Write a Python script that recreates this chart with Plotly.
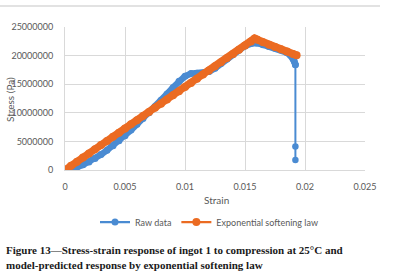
import plotly.graph_objects as go

# Raw data (blue)
raw_strain = [0, 0.0005, 0.001, 0.0015, 0.002, 0.0025, 0.003, 0.0035, 0.004, 0.0045,
              0.005, 0.0055, 0.006, 0.0065, 0.007, 0.0075, 0.008, 0.0085, 0.009, 0.0095,
              0.01, 0.0105, 0.011, 0.0115, 0.012, 0.0125, 0.013, 0.0135, 0.014, 0.0145,
              0.015, 0.0155, 0.016, 0.0165, 0.017, 0.0175, 0.018, 0.0185, 0.0188, 0.019,
              0.0191, 0.0192, 0.0192, 0.0192]
raw_stress = [0, 0.18e6, 0.5e6, 0.9e6, 1.4e6, 2.0e6, 2.7e6, 3.45e6, 4.25e6, 5.1e6,
              6.0e6, 7.0e6, 8.0e6, 9.0e6, 10.0e6, 11.1e6, 12.2e6, 13.3e6, 14.4e6, 15.5e6,
              16.4e6, 16.85e6, 16.9e6, 16.9e6, 17.2e6, 17.8e6, 18.6e6, 19.4e6, 20.2e6, 21.0e6,
              21.7e6, 22.1e6, 22.2e6, 21.9e6, 21.6e6, 21.3e6, 21.0e6, 20.5e6, 20.0e6, 19.5e6,
              19.0e6, 18.4e6, 4.1e6, 1.75e6]

# Exponential softening law (orange)
model_strain = [0, 0.0005, 0.001, 0.0015, 0.002, 0.0025, 0.003, 0.0035, 0.004, 0.0045,
                0.005, 0.0055, 0.006, 0.0065, 0.007, 0.0075, 0.008, 0.0085, 0.009, 0.0095,
                0.01, 0.0105, 0.011, 0.0115, 0.012, 0.0125, 0.013, 0.0135, 0.014, 0.0145,
                0.015, 0.0155, 0.0158, 0.016, 0.0165, 0.017, 0.0175, 0.018, 0.0185, 0.019,
                0.0193]
model_stress = [0, 0.73e6, 1.45e6, 2.18e6, 2.9e6, 3.63e6, 4.35e6, 5.08e6, 5.8e6, 6.53e6,
                7.25e6, 7.98e6, 8.7e6, 9.43e6, 10.15e6, 10.88e6, 11.6e6, 12.33e6, 13.05e6, 13.78e6,
                14.5e6, 15.23e6, 15.95e6, 16.68e6, 17.4e6, 18.13e6, 18.85e6, 19.58e6, 20.3e6, 21.03e6,
                21.75e6, 22.48e6, 23.0e6, 22.8e6, 22.35e6, 21.9e6, 21.5e6, 21.1e6, 20.7e6, 20.3e6,
                20.05e6]

x_ticks = [0, 0.005, 0.01, 0.015, 0.02, 0.025]
x_tick_labels = ["0", "0.005", "0.01", "0.015", "0.02", "0.025"]
y_ticks = [0, 5000000, 10000000, 15000000, 20000000, 25000000]
y_tick_labels = ["0", "5000000", "10000000", "15000000", "20000000", "25000000"]

BLUE = "#4A8BD2"
ORANGE = "#EB6B22"
GRID = "#D9D9D9"
TXT = "#595959"
FONT = "Lato"

fig = go.Figure()
# dense-marker band of the raw data
fig.add_trace(go.Scatter(x=raw_strain[:-2], y=raw_stress[:-2], mode="lines+markers", showlegend=False,
                         line=dict(color=BLUE, width=6.5), marker=dict(color=BLUE, size=7),
                         hoverinfo="skip"))
# thin drop segment with markers
fig.add_trace(go.Scatter(x=raw_strain[-3:], y=raw_stress[-3:], mode="lines+markers", showlegend=False,
                         line=dict(color=BLUE, width=2), marker=dict(color=BLUE, size=6.5),
                         hoverinfo="skip"))
# legend entry
fig.add_trace(go.Scatter(x=[None], y=[None], mode="lines+markers", name="Raw data",
                         line=dict(color=BLUE, width=2.2), marker=dict(color=BLUE, size=7)))
fig.add_trace(go.Scatter(x=model_strain, y=model_stress, mode="lines+markers",
                         showlegend=False,
                         line=dict(color=ORANGE, width=7.5), marker=dict(color=ORANGE, size=8),
                         hoverinfo="skip"))
fig.add_trace(go.Scatter(x=[None], y=[None], mode="lines+markers", name="Exponential softening law",
                         line=dict(color=ORANGE, width=2.2), marker=dict(color=ORANGE, size=8)))

fig.update_layout(
    width=395, height=276,
    margin=dict(l=65, r=30, t=27, b=106),
    paper_bgcolor="white", plot_bgcolor="white",
    font=dict(family=FONT, size=9, color=TXT),
    showlegend=True,
    legend=dict(orientation="h", x=0.48, xanchor="center", y=-0.364, yanchor="middle",
                font=dict(family=FONT, size=9, color=TXT), itemwidth=30,
                bgcolor="rgba(0,0,0,0)"),
    xaxis=dict(range=[0, 0.025], tickvals=x_ticks, ticktext=x_tick_labels,
               showgrid=True, gridcolor=GRID, gridwidth=1, zeroline=False,
               showline=True, linecolor=GRID, linewidth=1, mirror=False,
               ticks="", ticklabelstandoff=8, fixedrange=True, automargin=False),
    yaxis=dict(range=[0, 25000000], tickvals=y_ticks, ticktext=y_tick_labels,
               showgrid=True, gridcolor=GRID, gridwidth=1, zeroline=False,
               showline=True, linecolor=GRID, linewidth=1,
               ticks="", ticklabelstandoff=9, fixedrange=True, automargin=False),
)

# Chart frame top border
fig.add_shape(type="line", xref="paper", yref="paper",
              x0=-65/300, x1=315/300, y0=164/143, y1=164/143,
              line=dict(color=GRID, width=1.5))

# Axis titles
fig.add_annotation(text="Strain", xref="paper", yref="paper", x=(216-65)/300, y=(170-200)/143,
                   showarrow=False, xanchor="center", yanchor="middle",
                   font=dict(family=FONT, size=10, color=TXT))
fig.add_annotation(text="Stress (Pa)", xref="paper", yref="paper", x=(10-65)/300, y=(170-100)/143,
                   showarrow=False, xanchor="center", yanchor="middle", textangle=-90,
                   font=dict(family=FONT, size=10, color=TXT))

# Caption
cap1 = "Figure 13\u2014Stress-strain response of ingot 1 to compression at 25\u00b0C and"
cap2 = "model-predicted response by exponential softening law"
for txt, yy in [(cap1, 250), (cap2, 265)]:
    fig.add_annotation(text="<b>" + txt + "</b>", xref="paper", yref="paper",
                       x=(4-65)/300, y=(170-yy)/143, showarrow=False,
                       xanchor="left", yanchor="middle",
                       font=dict(family="Liberation Serif", size=11, color="#1a1a1a"))

fig.write_html("out.html", config={"displayModeBar": False},
               post_script="document.body.style.margin='0';")
